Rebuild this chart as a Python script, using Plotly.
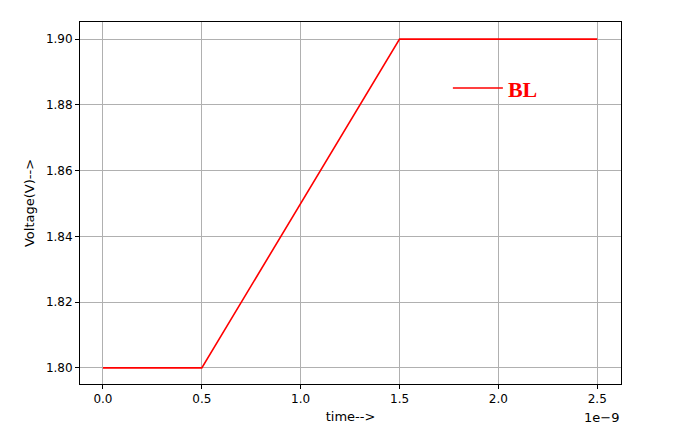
import plotly.graph_objects as go

time_s = [0.0, 0.5e-9, 1.5e-9, 2.5e-9]
voltage = [1.80, 1.80, 1.90, 1.90]
x_ticks = [0.0, 0.5e-9, 1.0e-9, 1.5e-9, 2.0e-9, 2.5e-9]
x_labels = ["0.0", "0.5", "1.0", "1.5", "2.0", "2.5"]
y_ticks = [1.80, 1.82, 1.84, 1.86, 1.88, 1.90]
y_labels = ["1.80", "1.82", "1.84", "1.86", "1.88", "1.90"]

fig = go.Figure()
fig.add_trace(go.Scatter(x=time_s, y=voltage, mode="lines", name="BL",
                         line=dict(color="red", width=1.6)))

axis_style = dict(showgrid=True, gridcolor="#b0b0b0", gridwidth=1,
                  showline=True, linecolor="black", mirror=True,
                  ticks="outside", ticklen=4, tickcolor="black",
                  zeroline=False, tickfont=dict(size=12, color="black"))

fig.update_layout(
    width=674, height=437,
    margin=dict(l=72, r=61, t=14, b=61),
    plot_bgcolor="white", paper_bgcolor="white",
    font=dict(family="DejaVu Sans", size=12, color="black"),
    xaxis=dict(range=[-0.116e-9, 2.62e-9], tickvals=x_ticks, ticktext=x_labels,
               title=dict(text="time-->", standoff=6, font=dict(size=13)), **axis_style),
    yaxis=dict(range=[1.7951, 1.9052], tickvals=y_ticks, ticktext=y_labels,
               title=dict(text="Voltage(V)-->", standoff=8, font=dict(size=13)), **axis_style),
    showlegend=True,
    legend=dict(x=0.68, y=0.875, xanchor="left", yanchor="top",
                bgcolor="rgba(0,0,0,0)", itemwidth=50,
                font=dict(family="Liberation Serif", size=22, color="red", weight="bold")),
    annotations=[dict(text="1e\u22129", xref="paper", yref="paper", x=1.0, y=-0.065,
                      xanchor="right", yanchor="top", showarrow=False,
                      font=dict(size=13))],
)

fig.write_html("out.html")
